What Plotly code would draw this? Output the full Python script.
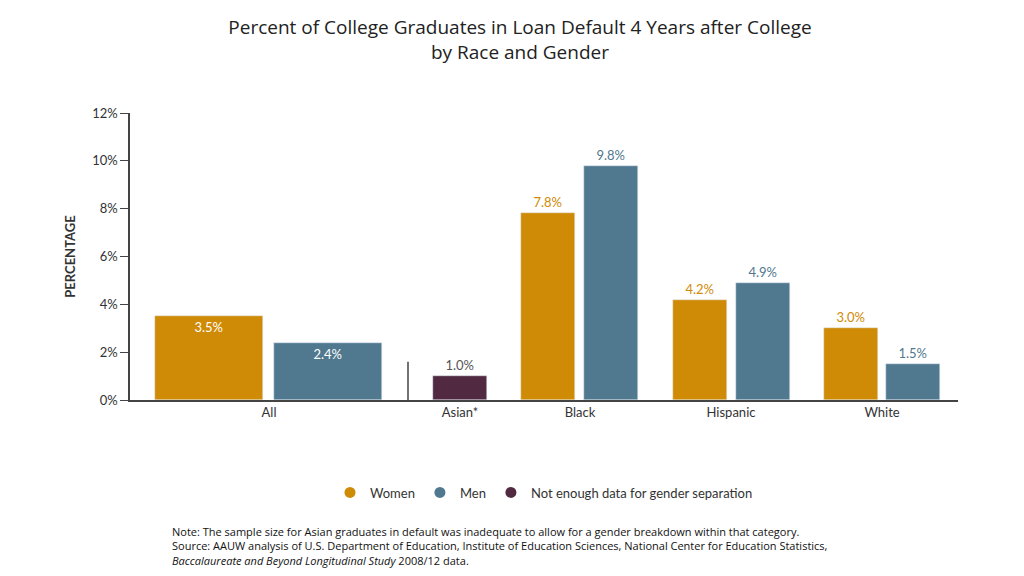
import plotly.graph_objects as go

groups = ["All", "Asian*", "Black", "Hispanic", "White"]
women = [3.5, None, 7.8, 4.2, 3.0]
men = [2.4, None, 9.8, 4.9, 1.5]
combined = [None, 1.0, None, None, None]

WOMEN_C = "#CF8A06"
MEN_C = "#50788E"
ASIAN_C = "#512A42"

# horizontal layout (x units = pixels of the reference)
centers = [261, 452, 572, 723, 874]
w_pos = [201, None, 540, 692, 843]
m_pos = [320, None, 603, 755, 905]
widths = [108, 54, 54, 54, 54]

fig = go.Figure()

for vals, pos, col in [(women, w_pos, WOMEN_C), (men, m_pos, MEN_C)]:
    xs = [p for p, v in zip(pos, vals) if v is not None]
    ys = [v for v in vals if v is not None]
    ws = [w for w, v in zip(widths, vals) if v is not None]
    inside = [i == 0 for i in range(len(ys))]
    fig.add_trace(go.Bar(x=xs, y=ys, width=ws, marker_color=col, showlegend=False,
                         text=[f"{v:.1f}%" for v in ys],
                         textposition=["inside" if f else "outside" for f in inside],
                         insidetextanchor="end",
                         textfont=dict(color=["white" if f else col for f in inside], size=13),
                         cliponaxis=False))

fig.add_trace(go.Bar(x=[centers[1]], y=[combined[1]], width=[54], marker_color=ASIAN_C,
                     showlegend=False, text=["1.0%"], textposition="outside",
                     textfont=dict(color="#555", size=13), cliponaxis=False))

for name, col in [("Women", WOMEN_C), ("Men", MEN_C),
                  ("Not enough data for gender separation", ASIAN_C)]:
    fig.add_trace(go.Scatter(x=[None], y=[None], mode="markers", name=name,
                             marker=dict(color=col, size=11, symbol="circle")))

shapes = [dict(type="line", xref="x", yref="y", x0=400, x1=400, y0=-1.8, y1=1.6,
               line=dict(color="#444", width=1.5))]
for tx in [122, 400, 498, 648, 800, 950]:
    shapes.append(dict(type="line", xref="x", yref="y", x0=tx, x1=tx, y0=0, y1=-0.25,
                       line=dict(color="#444", width=1.5)))

fig.update_layout(
    width=1024, height=576, plot_bgcolor="white", paper_bgcolor="white",
    margin=dict(l=122, r=74, t=105, b=184),
    font=dict(family="Lato", color="#333"),
    title=dict(text="Percent of College Graduates in Loan Default 4 Years after College<br>by Race and Gender",
               x=0.5, y=0.955, yanchor="top", xanchor="center",
               font=dict(size=19, color="#222", family="Open Sans")),
    bargap=0, barmode="overlay",
    shapes=shapes,
    legend=dict(orientation="h", x=0.5, xanchor="center", y=-0.27, font=dict(size=13)),
    xaxis=dict(range=[122, 950], tickmode="array", tickvals=centers, ticktext=groups,
               showline=True, linecolor="#444", linewidth=1.5, ticks="", showgrid=False,
               zeroline=False, automargin=False, tickfont=dict(size=13, color="#333")),
    yaxis=dict(range=[0, 12], tickvals=list(range(0, 13, 2)),
               ticktext=[f"{v}%" for v in range(0, 13, 2)],
               showline=True, linecolor="#444", linewidth=1.5, ticks="outside",
               ticklen=8, tickcolor="#444", showgrid=False, zeroline=False, automargin=False,
               tickfont=dict(size=13, color="#333"),
               title=dict(text="<b>PERCENTAGE</b>", font=dict(size=13, color="#333"), standoff=14)),
    annotations=[dict(xref="paper", yref="paper", x=(162 - 122) / 828, y=(392 - 514) / 287,
                      xanchor="left", yanchor="top", align="left", showarrow=False,
                      font=dict(size=11, color="#111", family="Open Sans"),
                      text="Note: The sample size for Asian graduates in default was inadequate to allow for a gender breakdown within that category.<br>"
                           "Source: AAUW analysis of U.S. Department of Education, Institute of Education Sciences, National Center for Education Statistics,<br>"
                           "<i>Baccalaureate and Beyond Longitudinal Study</i> 2008/12 data.")],
)

fig.write_html("out.html")
